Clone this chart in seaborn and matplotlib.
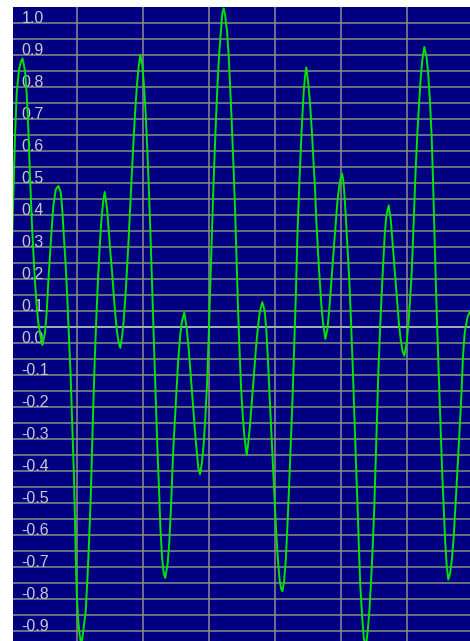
import numpy as np
import matplotlib
matplotlib.use("Agg")
import matplotlib.pyplot as plt
from matplotlib.ticker import MultipleLocator, FixedLocator, FixedFormatter
import seaborn as sns

# Captured trace: sample position and signal amplitude
sample = [
    11.0, 13.3, 15.0, 16.7, 19.0, 21.0, 22.5, 25.0, 26.7, 28.3, 30.0, 31.7, 33.3,
    35.0, 36.7, 38.3, 40.0, 42.3, 45.0, 46.7, 48.3, 50.0, 51.7, 53.3, 55.7, 58.3,
    60.7, 62.3, 64.0, 65.7, 67.3, 69.0, 70.7, 72.3, 74.0, 75.0, 75.8, 76.7, 78.0,
    79.5, 81.3, 83.3, 85.7, 87.3, 89.0, 90.7, 92.0, 93.3, 94.7, 96.3, 98.0, 99.7,
    101.3, 103.0, 104.7, 107.0, 108.7, 110.3, 112.0, 113.7, 115.3, 117.0, 118.7,
    120.3, 122.0, 123.7, 125.3, 127.0, 128.7, 130.3, 132.0, 133.7, 135.3, 137.0,
    138.7, 140.3, 142.3, 144.0, 145.7, 147.3, 149.0, 150.7, 152.3, 154.0, 155.7,
    157.3, 159.0, 160.3, 162.0, 163.7, 165.2, 167.7, 169.3, 170.7, 172.0, 173.3,
    175.0, 176.7, 178.3, 180.0, 181.7, 184.3, 186.7, 188.7, 190.3, 192.0, 193.7,
    195.3, 197.0, 198.3, 200.0, 202.0, 203.7, 205.3, 207.0, 208.7, 210.2, 211.5,
    213.0, 214.5, 216.0, 217.7, 219.3, 221.0, 222.3, 223.7, 225.3, 227.0, 228.7,
    230.3, 232.0, 233.7, 235.3, 236.7, 238.0, 239.5, 241.0, 242.7, 244.3, 246.7,
    248.0, 249.7, 251.3, 253.0, 254.7, 256.3, 258.0, 259.7, 262.3, 264.7, 266.3,
    268.0, 269.7, 271.3, 273.0, 274.7, 276.3, 278.0, 279.7, 281.3, 282.5, 284.0,
    285.7, 287.3, 289.0, 290.7, 292.7, 294.3, 296.0, 297.3, 299.0, 300.7, 302.3,
    303.7, 305.0, 306.3, 308.3, 310.0, 311.7, 313.3, 315.0, 316.3, 318.0, 319.7,
    321.3, 323.0, 325.3, 327.3, 329.0, 330.7, 332.3, 334.0, 335.7, 337.3, 339.0,
    340.5, 342.0, 343.2, 344.0, 345.7, 347.3, 349.3, 351.0, 352.7, 354.3, 356.0,
    357.7, 359.0, 360.3, 362.0, 363.7, 365.7, 367.7, 369.3, 371.0, 372.7, 374.3,
    375.7, 377.0, 378.3, 380.0, 381.7, 383.3, 384.7, 386.3, 388.7, 390.7, 392.3,
    394.0, 395.7, 397.3, 399.0, 400.7, 402.5, 404.3, 406.7, 408.3, 410.0, 411.7,
    413.0, 414.3, 415.7, 417.3, 419.0, 420.7, 422.3, 424.3, 426.7, 428.3, 430.0,
    431.7, 433.0, 434.3, 435.7, 437.3, 439.0, 440.7, 442.3, 444.0, 445.3, 446.7,
    448.3, 450.3, 452.0, 453.7, 455.3, 457.0, 458.7, 460.3, 461.7, 463.0, 464.7,
    466.3, 467.7, 470.5,
]
amplitude = [
    0.20, 0.45, 0.644, 0.78, 0.854, 0.878, 0.888, 0.85, 0.777, 0.669, 0.522, 0.388, 0.286,
    0.19, 0.114, 0.063, 0.03, -0.007, 0.031, 0.095, 0.19, 0.274, 0.357, 0.427, 0.478, 0.49,
    0.471, 0.414, 0.325, 0.242, 0.14, 0.018, -0.109, -0.256, -0.42, -0.56, -0.67, -0.78, -0.86,
    -0.91, -0.945, -0.9, -0.84, -0.745, -0.625, -0.485, -0.338, -0.198, -0.058, 0.076, 0.197, 0.299,
    0.38, 0.437, 0.471, 0.42, 0.35, 0.286, 0.223, 0.153, 0.086, 0.035, 0.0,
    -0.016, 0.018, 0.07, 0.14, 0.229, 0.329, 0.433, 0.539, 0.641, 0.73, 0.807,
    0.864, 0.899, 0.867, 0.803, 0.714, 0.603, 0.469, 0.316, 0.156, -0.007, -0.169,
    -0.322, -0.456, -0.571, -0.67, -0.72, -0.735, -0.689, -0.622, -0.532, -0.434, -0.332,
    -0.233, -0.137, -0.051, 0.016, 0.063, 0.095, 0.044, -0.02, -0.083, -0.154, -0.224,
    -0.29, -0.347, -0.39, -0.411, -0.373, -0.316, -0.236, -0.134, 0.02, 0.17, 0.31,
    0.45, 0.58, 0.70, 0.82, 0.909, 0.979, 1.03, 1.045, 1.02, 0.973, 0.896,
    0.79, 0.669, 0.535, 0.392, 0.25, 0.11, -0.02, -0.137, -0.226, -0.29, -0.351,
    -0.32, -0.268, -0.207, -0.137, -0.067, -0.003, 0.05, 0.095, 0.127, 0.099, 0.041,
    -0.058, -0.173, -0.277, -0.386, -0.494, -0.596, -0.683, -0.743, -0.77, -0.776, -0.747,
    -0.683, -0.581, -0.456, -0.316, -0.16, 0.003, 0.165, 0.325, 0.471, 0.599, 0.705,
    0.784, 0.832, 0.86, 0.809, 0.749, 0.669, 0.577, 0.482, 0.382, 0.284, 0.195,
    0.121, 0.063, 0.012, 0.041, 0.095, 0.163, 0.233, 0.303, 0.373, 0.437, 0.484,
    0.512, 0.529, 0.51, 0.482, 0.399, 0.306, 0.195, 0.067, -0.073, -0.224, -0.377,
    -0.523, -0.651, -0.759, -0.849, -0.92, -0.955, -0.9, -0.842, -0.749, -0.638, -0.513,
    -0.373, -0.233, -0.096, 0.038, 0.156, 0.255, 0.337, 0.395, 0.429, 0.386, 0.322,
    0.255, 0.188, 0.118, 0.057, 0.01, -0.025, -0.041, 0.0, 0.057, 0.131, 0.22,
    0.322, 0.433, 0.545, 0.65, 0.746, 0.826, 0.883, 0.924, 0.89, 0.835, 0.752,
    0.641, 0.51, 0.36, 0.201, 0.038, -0.122, -0.275, -0.415, -0.532, -0.628, -0.696,
    -0.74, -0.718, -0.673, -0.606, -0.52, -0.424, -0.326, -0.23, -0.141, -0.041, 0.031,
    0.06, 0.082, 0.10,
]

# Amplitude scale labels
level_values = [1.0, 0.9, 0.8, 0.7, 0.6, 0.5, 0.4, 0.3, 0.2, 0.1, 0.0,
                -0.1, -0.2, -0.3, -0.4, -0.5, -0.6, -0.7, -0.8, -0.9]
level_labels = ["1.0", "0.9", "0.8", "0.7", "0.6", "0.5", "0.4", "0.3", "0.2", "0.1", "0.0",
                "-0.1", "-0.2", "-0.3", "-0.4", "-0.5", "-0.6", "-0.7", "-0.8", "-0.9"]
offset_level = 0.05

# Horizontal scale: samples per grid division
SAMPLE_OFFSET = 10.6
SAMPLES_PER_DIV = 66.1
VIEW_START, VIEW_END = 13.0, 470.0

sns.set_style("dark")
plt.rcParams["font.family"] = ["Liberation Sans", "DejaVu Sans"]

time_div = (np.asarray(sample) - SAMPLE_OFFSET) / SAMPLES_PER_DIV

fig = plt.figure(figsize=(4.70, 6.41), dpi=100)
fig.patch.set_facecolor("white")
ax = fig.add_axes([13 / 470, 0.0, 457 / 470, 634 / 641])
ax.set_facecolor("#000080")

sns.lineplot(x=time_div, y=amplitude, ax=ax, color="#00e400", linewidth=1.4,
             estimator=None, sort=False, zorder=3)

ax.set_xlim((VIEW_START - SAMPLE_OFFSET) / SAMPLES_PER_DIV,
            (VIEW_END - SAMPLE_OFFSET) / SAMPLES_PER_DIV)
ax.set_ylim(-0.932, 1.049)

ax.xaxis.set_major_locator(MultipleLocator(1))
ax.tick_params(axis="x", length=0, labelbottom=False)

ax.yaxis.set_major_locator(FixedLocator(level_values))
ax.yaxis.set_major_formatter(FixedFormatter(level_labels))
ax.yaxis.set_minor_locator(MultipleLocator(0.05))

ax.grid(which="both", axis="both", color="#8c8c8c", linewidth=1.1)
ax.set_axisbelow(True)
ax.axhline(offset_level, color="#b8b8c8", linewidth=1.1, zorder=1)

for spine in ax.spines.values():
    spine.set_visible(False)

ax.tick_params(axis="y", which="both", direction="in", length=3, width=1.0,
               color="#a8a8b0", pad=-6.1, labelcolor="#c8c8cc", labelsize=11.5)
for lbl in ax.get_yticklabels():
    lbl.set_horizontalalignment("left")
    lbl.set_verticalalignment("baseline")

ax.set_xlabel("")
ax.set_ylabel("")

fig.savefig("out.png", dpi=100, facecolor="white")
